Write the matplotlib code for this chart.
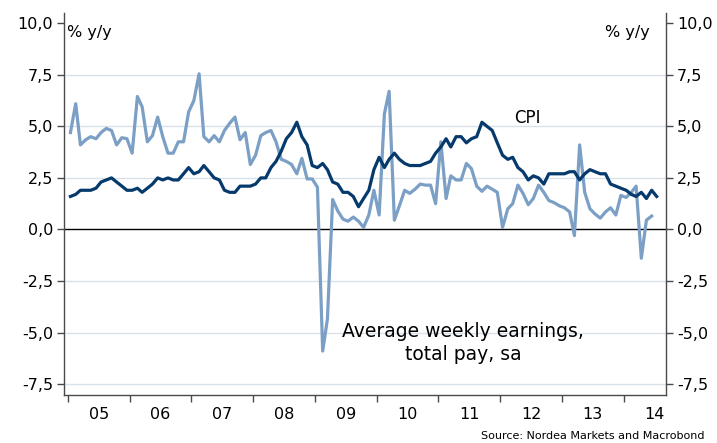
# python3

import numpy as np
import pandas as pd
import matplotlib
matplotlib.use('Agg')
import matplotlib.pyplot as plt
import matplotlib.dates as mdates
from matplotlib.ticker import FuncFormatter

# monthly data, Jan 2005 onwards
cpi = [1.6, 1.7, 1.9, 1.9, 1.9, 2.0, 2.3, 2.4, 2.5, 2.3, 2.1, 1.9,
       1.9, 2.0, 1.8, 2.0, 2.2, 2.5, 2.4, 2.5, 2.4, 2.4, 2.7, 3.0,
       2.7, 2.8, 3.1, 2.8, 2.5, 2.4, 1.9, 1.8, 1.8, 2.1, 2.1, 2.1,
       2.2, 2.5, 2.5, 3.0, 3.3, 3.8, 4.4, 4.7, 5.2, 4.5, 4.1, 3.1,
       3.0, 3.2, 2.9, 2.3, 2.2, 1.8, 1.8, 1.6, 1.1, 1.5, 1.9, 2.9,
       3.5, 3.0, 3.4, 3.7, 3.4, 3.2, 3.1, 3.1, 3.1, 3.2, 3.3, 3.7,
       4.0, 4.4, 4.0, 4.5, 4.5, 4.2, 4.4, 4.5, 5.2, 5.0, 4.8, 4.2,
       3.6, 3.4, 3.5, 3.0, 2.8, 2.4, 2.6, 2.5, 2.2, 2.7, 2.7, 2.7,
       2.7, 2.8, 2.8, 2.4, 2.7, 2.9, 2.8, 2.7, 2.7, 2.2, 2.1, 2.0,
       1.9, 1.7, 1.6, 1.8, 1.5, 1.9, 1.6]

earnings = [4.7, 6.1, 4.1, 4.35, 4.5, 4.4, 4.7, 4.9, 4.8, 4.1, 4.45, 4.4,
            3.7, 6.45, 5.95, 4.25, 4.55, 5.45, 4.5, 3.7, 3.7, 4.25, 4.25, 5.7,
            6.25, 7.55, 4.5, 4.25, 4.55, 4.25, 4.8, 5.15, 5.45, 4.35, 4.7, 3.15,
            3.6, 4.55, 4.7, 4.8, 4.25, 3.4, 3.3, 3.15, 2.7, 3.45, 2.45, 2.45,
            2.05, -5.9, -4.35, 1.45, 0.9, 0.5, 0.4, 0.6, 0.4, 0.1, 0.7, 1.9,
            0.7, 5.6, 6.7, 0.45, 1.15, 1.9, 1.75, 1.95, 2.2, 2.15, 2.15, 1.25,
            4.25, 1.5, 2.6, 2.4, 2.4, 3.2, 2.95, 2.1, 1.85, 2.1, 1.95, 1.8,
            0.1, 1.0, 1.25, 2.15, 1.75, 1.2, 1.5, 2.15, 1.8, 1.4, 1.3, 1.15,
            1.05, 0.85, -0.3, 4.1, 1.8, 1.0, 0.75, 0.55, 0.85, 1.05, 0.7, 1.65,
            1.55, 1.8, 2.1, -1.4, 0.45, 0.65]

year_labels = ['05', '06', '07', '08', '09', '10', '11', '12', '13', '14']
y_ticks = [-7.5, -5.0, -2.5, 0.0, 2.5, 5.0, 7.5, 10.0]

cpi_dates = pd.date_range('2005-01-01', periods=len(cpi), freq='MS') + pd.Timedelta(days=14)
awe_dates = pd.date_range('2005-01-01', periods=len(earnings), freq='MS') + pd.Timedelta(days=14)

fig = plt.figure(figsize=(7.17, 4.43), dpi=100)
ax = fig.add_axes([0.0893, 0.1084, 0.8396, 0.8623])

spine_col = '#4a4a4a'
grid_col = '#d8e1e9'

for y in y_ticks:
    if y == 0:
        ax.axhline(0, color='black', lw=1.0, zorder=2)
    elif y < 10:
        ax.axhline(y, color=grid_col, lw=1.0, zorder=1)

ax.plot(awe_dates, earnings, color='#7b9fc5', lw=2.3, zorder=3, solid_joinstyle='round')
ax.plot(cpi_dates, cpi, color='#063a6c', lw=2.3, zorder=4, solid_joinstyle='round')

ax.set_ylim(-8.03, 10.5)
ax.set_xlim(pd.Timestamp('2004-12-08'), pd.Timestamp('2014-09-08'))

fmt = FuncFormatter(lambda v, p: ('%.1f' % v).replace('.', ','))
ax.set_yticks(y_ticks)
ax.yaxis.set_major_formatter(fmt)
ax.tick_params(axis='y', which='both', direction='out', length=5, width=1,
               color=spine_col, labelsize=11.5, left=True, right=True,
               labelleft=True, labelright=True, pad=3)

years = [pd.Timestamp('%d-01-01' % y) for y in range(2005, 2015)]
mids = [pd.Timestamp('%d-07-01' % y) for y in range(2005, 2015)]
ax.set_xticks(years)
ax.set_xticklabels([])
ax.set_xticks(mids, minor=True)
ax.set_xticklabels(year_labels, minor=True)
ax.tick_params(axis='x', which='major', direction='out', length=5, width=1, color=spine_col)
ax.tick_params(axis='x', which='minor', length=0, labelsize=11.5, pad=9)

for s in ['left', 'right', 'bottom']:
    ax.spines[s].set_color(spine_col)
    ax.spines[s].set_linewidth(1.0)
ax.spines['top'].set_visible(False)

ax.text(0.005, 0.948, '% y/y', transform=ax.transAxes, fontsize=11.5, va='center', ha='left')
ax.text(0.973, 0.948, '% y/y', transform=ax.transAxes, fontsize=11.5, va='center', ha='right')

ax.text(mdates.date2num(pd.Timestamp('2012-06-10')), 5.4, 'CPI', fontsize=12, ha='center', va='center')
ax.text(mdates.date2num(pd.Timestamp('2011-05-27')), -5.5, 'Average weekly earnings,\ntotal pay, sa',
        fontsize=13.5, ha='center', va='center', linespacing=1.28)

fig.text(0.982, 0.004, 'Source: Nordea Markets and Macrobond', fontsize=8, ha='right', va='bottom')

fig.savefig('out.png', dpi=100)
